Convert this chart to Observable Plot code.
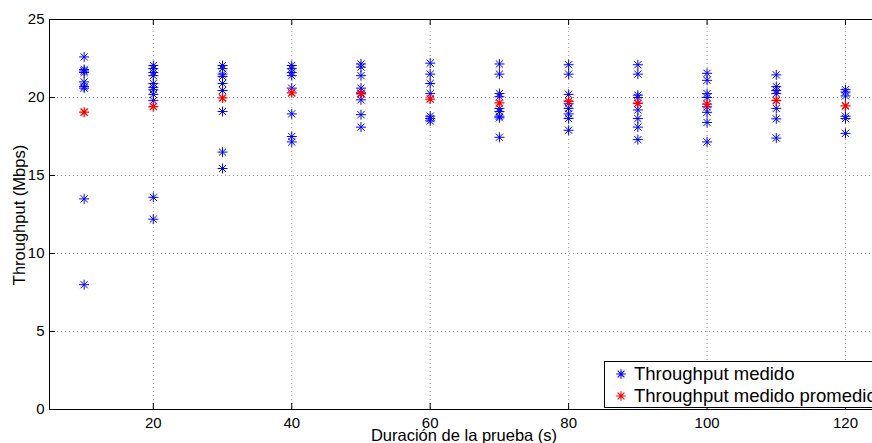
<!DOCTYPE html>
<html>
<head>
<meta charset="utf-8">
<script src="https://cdn.jsdelivr.net/npm/d3@7"></script>
<script src="https://cdn.jsdelivr.net/npm/@observablehq/plot@0.6"></script>
<style>
  body { margin: 0; background: #fff; }
  #wrap { position: relative; width: 872px; height: 443px; overflow: hidden; font-family: "Liberation Sans", Arial, Helvetica, sans-serif; }
  #wrap svg { display: block; }
  .lbl { position: absolute; font-size: 16.5px; line-height: 1; color: #000; white-space: nowrap; }
  #legend { position: absolute; left: 604px; top: 361px; width: 320px; height: 47px; box-sizing: border-box; border: 1px solid #000; background: #fff; }
  .row { position: absolute; left: 0; height: 22px; display: flex; align-items: center; font-size: 18.5px; white-space: nowrap; }
  .row svg { margin-left: 10px; margin-right: 7px; }
</style>
</head>
<body>
<div id="wrap"></div>
<script>
// ---- data ----
const durations = [10, 20, 30, 40, 50, 60, 70, 80, 90, 100, 110, 120];
const t10 = [22.6, 21.8, 21.7, 21.6, 21.0, 20.7, 20.6, 13.5, 8.0];
const t20 = [22.05, 21.85, 21.6, 21.4, 20.9, 20.65, 20.5, 20.2, 19.8, 13.6, 12.2];
const t30 = [22.05, 21.85, 21.5, 21.35, 20.9, 20.45, 19.1, 16.5, 15.45];
const t40 = [22.05, 21.85, 21.6, 21.4, 20.6, 18.95, 17.5, 17.15];
const t50 = [22.15, 21.95, 21.4, 20.6, 20.3, 19.85, 18.9, 18.1];
const t60 = [22.2, 21.5, 20.9, 20.25, 18.8, 18.65, 18.5];
const t70 = [22.15, 21.5, 20.25, 20.05, 19.3, 19.1, 18.8, 18.7, 17.45];
const t80 = [22.1, 21.5, 20.2, 19.6, 19.3, 18.95, 18.65, 17.9];
const t90 = [22.1, 21.5, 20.15, 20.0, 19.2, 18.65, 18.1, 17.3];
const t100 = [21.55, 21.1, 20.25, 20.0, 19.4, 19.05, 18.4, 17.15];
const t110 = [21.45, 20.7, 20.45, 20.25, 19.3, 18.63, 17.4];
const t120 = [20.5, 20.35, 20.1, 18.8, 18.65, 17.7];
const averages = [19.06, 19.42, 19.97, 20.3, 20.24, 19.9, 19.65, 19.76, 19.63, 19.57, 19.81, 19.46];
const xTicks = [20, 40, 60, 80, 100, 120];
const yTicks = [0, 5, 10, 15, 20, 25];
const xDomain = [5, 123.9];
const yDomain = [0, 25];
const seriesNames = ["Throughput medido", "Throughput medido promedio"];
const xLabel = "Duración de la prueba (s)";
const yLabel = "Throughput (Mbps)";

// ---- build tables ----
const measuredLists = [t10, t20, t30, t40, t50, t60, t70, t80, t90, t100, t110, t120];
const measured = durations.flatMap((d, i) => measuredLists[i].map(v => ({d, v})));
const avgData = durations.map((d, i) => ({d, v: averages[i]}));

const star = {
  draw(ctx, size) {
    const r = Math.sqrt(size / Math.PI);
    const k = r * 0.72;
    ctx.moveTo(-r, 0); ctx.lineTo(r, 0);
    ctx.moveTo(0, -r); ctx.lineTo(0, r);
    ctx.moveTo(-k, -k); ctx.lineTo(k, k);
    ctx.moveTo(-k, k); ctx.lineTo(k, -k);
  }
};

const chart = Plot.plot({
  width: 872,
  height: 443,
  marginLeft: 49,
  marginRight: 0,
  marginTop: 19,
  marginBottom: 34,
  style: { fontSize: "15px", fontFamily: "'Liberation Sans', Arial, Helvetica, sans-serif", background: "#fff", color: "#000" },
  x: { domain: xDomain, ticks: xTicks, tickSize: 0, tickPadding: 8, label: null, tickFormat: d => String(d) },
  y: { domain: yDomain, ticks: yTicks, tickSize: 0, tickPadding: 5, label: null, tickFormat: d => String(d) },
  marks: [
    Plot.ruleX(xTicks, { stroke: "#9a9a9a", strokeDasharray: "1,3", strokeWidth: 1 }),
    Plot.ruleY(yTicks.filter(t => t > yDomain[0] && t < yDomain[1]), { stroke: "#9a9a9a", strokeDasharray: "1,3", strokeWidth: 1 }),
    Plot.tickX(xTicks, { stroke: "#000", insetTop: 384 }),
    Plot.tickX(xTicks, { stroke: "#000", insetBottom: 384 }),
    Plot.tickY(yTicks, { stroke: "#000", insetRight: 817 }),
    Plot.ruleX([xDomain[0]], { stroke: "#000", strokeWidth: 1 }),
    Plot.ruleY(yDomain, { stroke: "#000", strokeWidth: 1 }),
    Plot.dot(measured, { x: "d", y: "v", symbol: star, r: 5, stroke: "#0000ff", strokeWidth: 1, fill: "none" }),
    Plot.dot(avgData, { x: "d", y: "v", symbol: star, r: 5, stroke: "#ff0000", strokeWidth: 1.3, fill: "none" })
  ]
});

const wrap = document.getElementById("wrap");
wrap.appendChild(chart);

function starSvg(color) {
  return `<svg width="12" height="12" viewBox="-6 -6 12 12"><path d="M-4.8,0L4.8,0M0,-4.8L0,4.8M-3.4,-3.4L3.4,3.4M-3.4,3.4L3.4,-3.4" stroke="${color}" stroke-width="1.1" fill="none"/></svg>`;
}

const xl = document.createElement("div");
xl.className = "lbl";
xl.textContent = xLabel;
xl.style.left = "464px"; xl.style.top = "427px"; xl.style.transform = "translateX(-50%)";
wrap.appendChild(xl);

const yl = document.createElement("div");
yl.className = "lbl";
yl.textContent = yLabel;
yl.style.left = "19px"; yl.style.top = "215px"; yl.style.transform = "translate(-50%, -50%) rotate(-90deg)";
wrap.appendChild(yl);

const lg = document.createElement("div");
lg.id = "legend";
const colors = ["#0000ff", "#ff0000"];
seriesNames.forEach((name, i) => {
  const row = document.createElement("div");
  row.className = "row";
  row.style.top = (i === 0 ? 1 : 23) + "px";
  row.innerHTML = starSvg(colors[i]) + `<span>${name}</span>`;
  lg.appendChild(row);
});
wrap.appendChild(lg);
</script>
</body>
</html>
